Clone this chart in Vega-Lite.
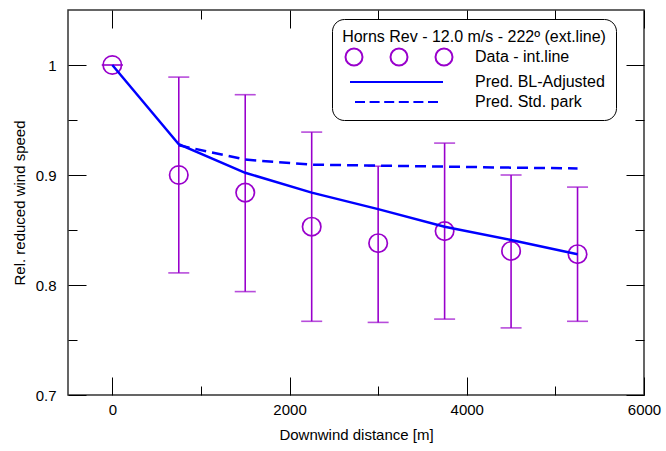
{
  "$schema": "https://vega.github.io/schema/vega-lite/v6.json",
  "width": 576,
  "height": 385,
  "autosize": {"type": "none"},
  "padding": {"left": 68, "top": 10, "right": 22, "bottom": 56},
  "config": {
    "font": "Liberation Sans",
    "view": {"stroke": "#333", "strokeWidth": 1.5},
    "axis": {"labelFontSize": 15, "titleFontSize": 15, "titleFontWeight": "normal", "labelColor": "#000", "titleColor": "#000", "grid": false, "domain": false, "ticks": true, "tickColor": "#000", "tickOpacity": 1, "tickWidth": 1, "labelFlush": false, "labelOverlap": false},
    "legend": {
      "titleAnchor": "middle", "titleFontSize": 16, "titleFontWeight": "normal", "titleColor": "#000", "titlePadding": 4, "titleLimit": 500,
      "labelFontSize": 16, "labelColor": "#000", "labelOffset": 63, "labelLimit": 300, "symbolOffset": 53,
      "symbolSize": 100, "symbolStrokeWidth": 2, "symbolOpacity": 1, "symbolFillColor": "transparent", "rowPadding": 4,
      "strokeColor": "#000", "cornerRadius": 12, "padding": 10, "fillColor": "#fff"
    }
  },
  "datasets": {
    "obs": [
      {"x": 0, "y": 1.0, "lo": 1.0, "hi": 1.0, "s": "Data - int.line"},
      {"x": 750, "y": 0.900, "lo": 0.811, "hi": 0.989, "s": "Data - int.line"},
      {"x": 1500, "y": 0.884, "lo": 0.794, "hi": 0.973, "s": "Data - int.line"},
      {"x": 2250, "y": 0.853, "lo": 0.767, "hi": 0.939, "s": "Data - int.line"},
      {"x": 3000, "y": 0.838, "lo": 0.766, "hi": 0.908, "s": "Data - int.line"},
      {"x": 3750, "y": 0.849, "lo": 0.769, "hi": 0.929, "s": "Data - int.line"},
      {"x": 4500, "y": 0.831, "lo": 0.761, "hi": 0.900, "s": "Data - int.line"},
      {"x": 5250, "y": 0.828, "lo": 0.767, "hi": 0.889, "s": "Data - int.line"}
    ],
    "pred": [
      {"x": 0, "y": 1.0, "s": "Pred. BL-Adjusted"},
      {"x": 750, "y": 0.928, "s": "Pred. BL-Adjusted"},
      {"x": 1500, "y": 0.902, "s": "Pred. BL-Adjusted"},
      {"x": 2250, "y": 0.884, "s": "Pred. BL-Adjusted"},
      {"x": 3000, "y": 0.869, "s": "Pred. BL-Adjusted"},
      {"x": 3750, "y": 0.853, "s": "Pred. BL-Adjusted"},
      {"x": 4500, "y": 0.841, "s": "Pred. BL-Adjusted"},
      {"x": 5250, "y": 0.828, "s": "Pred. BL-Adjusted"},
      {"x": 750, "y": 0.927, "s": "Pred. Std. park"},
      {"x": 1500, "y": 0.914, "s": "Pred. Std. park"},
      {"x": 2250, "y": 0.9094, "s": "Pred. Std. park"},
      {"x": 3000, "y": 0.9085, "s": "Pred. Std. park"},
      {"x": 3750, "y": 0.9076, "s": "Pred. Std. park"},
      {"x": 4500, "y": 0.9067, "s": "Pred. Std. park"},
      {"x": 5250, "y": 0.906, "s": "Pred. Std. park"}
    ]
  },
  "resolve": {"axis": {"x": "independent", "y": "independent"}},
  "layer": [
    {
      "data": {"name": "obs"},
      "mark": {"type": "rule", "color": "#9900CC", "strokeWidth": 1.6},
      "encoding": {
        "x": {"field": "x", "type": "quantitative", "scale": {"domain": [-500, 6000], "nice": false, "zero": false},
          "axis": {"orient": "bottom", "values": [0, 2000, 4000, 6000], "format": "d", "offset": -18, "tickSize": 18, "labelPadding": 7, "title": "Downwind distance [m]", "titlePadding": 10}},
        "y": {"field": "lo", "type": "quantitative", "scale": {"domain": [0.7, 1.05], "nice": false, "zero": false},
          "axis": {"orient": "left", "values": [0.7, 0.8, 0.9, 1.0], "format": "~g", "offset": -18, "tickSize": 18, "labelPadding": 12, "title": "Rel. reduced wind speed", "titlePadding": 8}},
        "y2": {"field": "hi"}
      }
    },
    {
      "data": {"name": "obs"},
      "mark": {"type": "tick", "orient": "horizontal", "color": "#9900CC", "size": 21, "thickness": 1.6},
      "encoding": {
        "x": {"field": "x", "type": "quantitative", "scale": {"domain": [-500, 6000], "nice": false, "zero": false},
          "axis": {"orient": "bottom", "values": [1000, 3000, 5000], "labels": false, "offset": -9, "tickSize": 9, "title": null}},
        "y": {"field": "lo", "type": "quantitative", "scale": {"domain": [0.7, 1.05], "nice": false, "zero": false},
          "axis": {"orient": "left", "values": [0.75, 0.85, 0.95], "labels": false, "offset": -9, "tickSize": 9, "title": null}}
      }
    },
    {
      "data": {"name": "obs"},
      "mark": {"type": "tick", "orient": "horizontal", "color": "#9900CC", "size": 21, "thickness": 1.6},
      "encoding": {
        "x": {"field": "x", "type": "quantitative", "scale": {"domain": [-500, 6000], "nice": false, "zero": false},
          "axis": {"orient": "top", "values": [0, 2000, 4000, 6000], "labels": false, "offset": -18, "tickSize": 18, "title": null}},
        "y": {"field": "hi", "type": "quantitative", "scale": {"domain": [0.7, 1.05], "nice": false, "zero": false},
          "axis": {"orient": "right", "values": [0.7, 0.8, 0.9, 1.0], "labels": false, "offset": -18, "tickSize": 18, "title": null}}
      }
    },
    {
      "data": {"name": "obs"},
      "mark": {"type": "point", "filled": false, "shape": "circle", "size": 340, "strokeWidth": 1.7, "opacity": 1, "color": "#9900CC"},
      "encoding": {
        "x": {"field": "x", "type": "quantitative", "scale": {"domain": [-500, 6000], "nice": false, "zero": false},
          "axis": {"orient": "top", "values": [1000, 3000, 5000], "labels": false, "offset": -9, "tickSize": 9, "title": null}},
        "y": {"field": "y", "type": "quantitative", "scale": {"domain": [0.7, 1.05], "nice": false, "zero": false},
          "axis": {"orient": "right", "values": [0.75, 0.85, 0.95], "labels": false, "offset": -9, "tickSize": 9, "title": null}}
      }
    },
    {
      "data": {"name": "pred"},
      "transform": [{"filter": "datum.s == 'Pred. BL-Adjusted'"}],
      "mark": {"type": "line", "strokeWidth": 2.5, "color": "#0000FF"},
      "encoding": {
        "x": {"field": "x", "type": "quantitative", "scale": {"domain": [-500, 6000], "nice": false, "zero": false}, "axis": null},
        "y": {"field": "y", "type": "quantitative", "scale": {"domain": [0.7, 1.05], "nice": false, "zero": false}, "axis": null}
      }
    },
    {
      "data": {"name": "pred"},
      "transform": [{"filter": "datum.s == 'Pred. Std. park'"}],
      "mark": {"type": "line", "strokeWidth": 2.5, "strokeDash": [11, 6], "color": "#0000FF"},
      "encoding": {
        "x": {"field": "x", "type": "quantitative", "scale": {"domain": [-500, 6000], "nice": false, "zero": false}, "axis": null},
        "y": {"field": "y", "type": "quantitative", "scale": {"domain": [0.7, 1.05], "nice": false, "zero": false}, "axis": null}
      }
    },
    {
      "data": {"name": "obs"},
      "transform": [{"filter": "datum.x < 0"}],
      "mark": {"type": "point", "filled": false, "strokeWidth": 2, "opacity": 0},
      "encoding": {
        "x": {"field": "x", "type": "quantitative", "scale": {"domain": [-500, 6000], "nice": false, "zero": false}, "axis": null},
        "y": {"field": "y", "type": "quantitative", "scale": {"domain": [0.7, 1.05], "nice": false, "zero": false}, "axis": null},
        "color": {"field": "s", "type": "nominal",
          "scale": {"domain": ["Data - int.line", "Pred. BL-Adjusted", "Pred. Std. park"], "range": ["#9900CC", "#0000FF", "#0000FF"]},
          "legend": {"title": "Horns Rev - 12.0 m/s - 222º (ext.line)", "orient": "none", "legendX": 264, "legendY": 9}},
        "shape": {"field": "s", "type": "nominal",
          "scale": {"domain": ["Data - int.line", "Pred. BL-Adjusted", "Pred. Std. park"],
            "range": ["M-11.7,0A1.7,1.7 0 1,0 -8.3,0A1.7,1.7 0 1,0 -11.7,0M-2.7,0A1.7,1.7 0 1,0 0.7,0A1.7,1.7 0 1,0 -2.7,0M6.3,0A1.7,1.7 0 1,0 9.7,0A1.7,1.7 0 1,0 6.3,0", "M-10.8,0H7.8", "M-9.8,0H-7.8M-6.88,0H-4.88M-3.96,0H-1.96M-1.04,0H0.96M1.88,0H3.88M4.8,0H6.8"]},
          "legend": {"title": "Horns Rev - 12.0 m/s - 222º (ext.line)", "orient": "none", "legendX": 264, "legendY": 9}}
      }
    }
  ]
}
